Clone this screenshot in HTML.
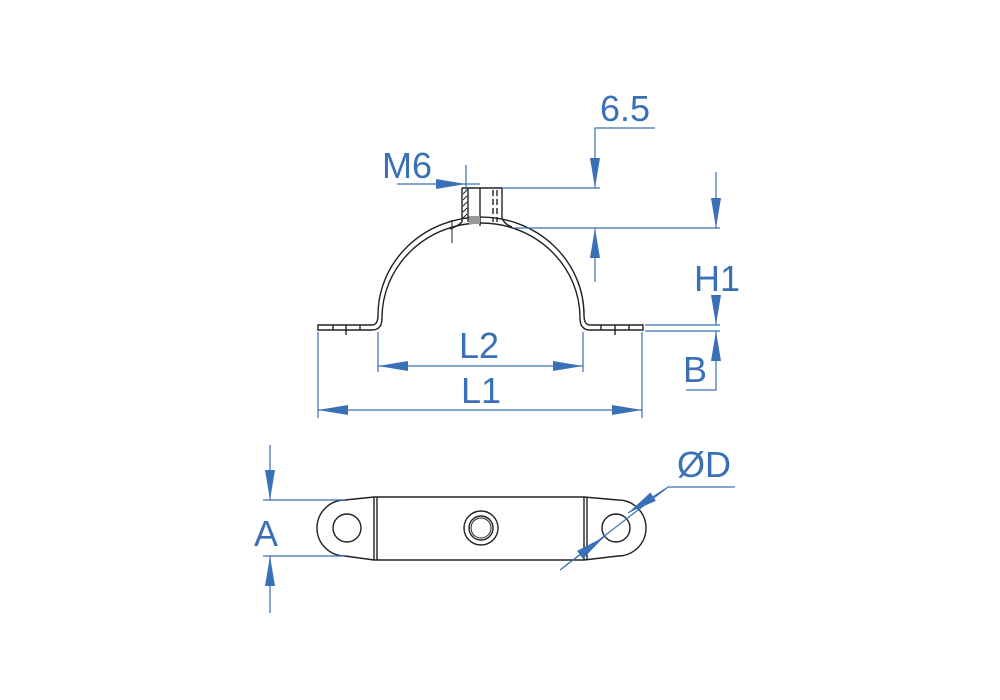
<!DOCTYPE html>
<html><head><meta charset="utf-8"><style>
html,body{margin:0;padding:0;background:#fff;width:1000px;height:700px;overflow:hidden}
svg{display:block}
text{font-family:"Liberation Sans",sans-serif;fill:#3a70b8;font-size:36px}
</style></head><body>
<svg width="1000" height="700" viewBox="0 0 1000 700">
<defs>
<marker id="a" viewBox="0 0 30 10" refX="30" refY="5" markerWidth="30" markerHeight="10" markerUnits="userSpaceOnUse" orient="auto"><path d="M0,0 L30,5 L0,10 z" fill="#3a70b8"/></marker>
</defs>
<g stroke="#222" stroke-width="1.4" fill="none">
<path d="M318,325 L372,325 Q378,325 378,315 A103,98 0 0 1 584,315 Q584,325 590,325 L643,325 L643,330 L590,330 Q580,330 580,318 A99,95 0 0 0 382,318 Q382,330 372,330 L318,330 Z"/>
<line x1="333" y1="325" x2="333" y2="330"/><line x1="346" y1="325" x2="346" y2="335"/><line x1="360" y1="325" x2="360" y2="330"/>
<line x1="601" y1="325" x2="601" y2="330"/><line x1="615" y1="325" x2="615" y2="335"/><line x1="629" y1="325" x2="629" y2="330"/>
<path d="M462,188 L462,222 Q458,226 450,229"/>
<path d="M502,188 L502,218 Q504,224 512,227"/>
<line x1="462" y1="188" x2="502" y2="188"/>
<line x1="468" y1="188" x2="468" y2="222"/>
<line x1="480" y1="188" x2="480" y2="226"/>
<line x1="493" y1="190" x2="493" y2="222" stroke-dasharray="6,3"/>
<line x1="497" y1="190" x2="497" y2="222" stroke-dasharray="6,3"/>
<rect x="469" y="216" width="11" height="8" fill="#999" stroke="none"/>
<path d="M463,194 L467,190 M463,200 L467,196 M463,206 L467,202 M463,212 L467,208 M463,218 L467,214" stroke-width="1"/>
<line x1="452" y1="220" x2="452" y2="243" stroke-width="1"/>
<path d="M345,500 L374,497 L584,497 L618,500 A28,28 0 0 1 618,556 L584,560 L374,560 L345,556 A28,28 0 0 1 345,500 Z"/>
<line x1="374" y1="497" x2="374" y2="560"/><line x1="377" y1="497" x2="377" y2="560"/>
<line x1="584" y1="497" x2="584" y2="560"/><line x1="587" y1="497" x2="587" y2="560"/>
<circle cx="347" cy="528" r="14"/><circle cx="616" cy="528" r="14"/>
<circle cx="481" cy="528" r="17"/><circle cx="481" cy="528" r="12"/><circle cx="481" cy="528" r="10" stroke-width="1"/>
</g>
<g stroke="#3a70b8" stroke-width="1.2" fill="none">
<polyline points="655,128 595,128 595,188" marker-end="url(#a)"/>
<line x1="595" y1="282" x2="595" y2="228" marker-end="url(#a)"/>
<line x1="502" y1="188" x2="600" y2="188"/>
<line x1="515" y1="228" x2="720" y2="228"/>
<line x1="716" y1="172" x2="716" y2="228" marker-end="url(#a)"/>
<line x1="716" y1="295" x2="716" y2="325" marker-end="url(#a)"/>
<polyline points="686,390 716,390 716,331" marker-end="url(#a)"/>
<line x1="645" y1="325" x2="720" y2="325"/><line x1="645" y1="331" x2="720" y2="331"/>
<line x1="397" y1="184" x2="466" y2="184" marker-end="url(#a)"/>
<line x1="466" y1="165" x2="466" y2="190"/>
<line x1="466" y1="184" x2="480" y2="184"/>
<line x1="378" y1="332" x2="378" y2="372"/><line x1="583" y1="332" x2="583" y2="372"/>
<line x1="480" y1="366" x2="378" y2="366" marker-end="url(#a)"/><line x1="480" y1="366" x2="583" y2="366" marker-end="url(#a)"/>
<line x1="318" y1="332" x2="318" y2="418"/><line x1="642" y1="332" x2="642" y2="418"/>
<line x1="480" y1="410" x2="318" y2="410" marker-end="url(#a)"/><line x1="480" y1="410" x2="642" y2="410" marker-end="url(#a)"/>
<line x1="270" y1="445" x2="270" y2="500" marker-end="url(#a)"/>
<line x1="270" y1="613" x2="270" y2="556" marker-end="url(#a)"/>
<line x1="263" y1="500" x2="345" y2="500"/><line x1="263" y1="556" x2="345" y2="556"/>
<polyline points="735,487 668,487 560,570"/>
<line x1="565" y1="566" x2="604" y2="537" marker-end="url(#a)"/>
<line x1="665" y1="489" x2="628" y2="513" marker-end="url(#a)"/>
</g>
<text x="600" y="121">6.5</text>
<text x="382" y="178">M6</text>
<text x="694" y="291">H1</text>
<text x="683" y="382">B</text>
<text x="459" y="358">L2</text>
<text x="461" y="403">L1</text>
<text x="254" y="546">A</text>
<text x="677" y="477">ØD</text>
</svg>
</body></html>
